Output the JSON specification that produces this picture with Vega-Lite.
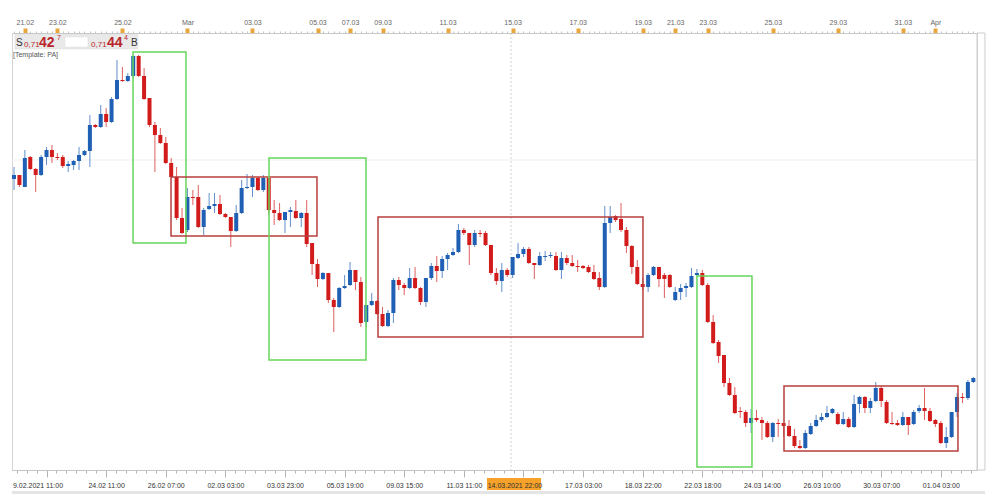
{
"$schema": "https://vega.github.io/schema/vega-lite/v6.json",
"width": 965, "height": 437,
"autosize": {"type": "none"},
"padding": {"left": 12, "top": 33, "right": 23, "bottom": 29},
"background": "white",
"config": {"view": {"stroke": "#d4d4d4"}, "font": "Liberation Sans", "scale": {"continuousPadding": 0}},
"datasets": {
"candles": [
{"i":0,"o":7333,"h":7345,"l":7322,"c":7337},
{"i":1,"o":7337,"h":7337,"l":7325,"c":7327},
{"i":2,"o":7325,"h":7362,"l":7325,"c":7354},
{"i":3,"o":7355,"h":7356,"l":7342,"c":7343},
{"i":4,"o":7343,"h":7344,"l":7320,"c":7337},
{"i":5,"o":7337,"h":7357,"l":7336,"c":7355},
{"i":6,"o":7355,"h":7365,"l":7347,"c":7362},
{"i":7,"o":7362,"h":7367,"l":7349,"c":7355},
{"i":8,"o":7355,"h":7359,"l":7352,"c":7354},
{"i":9,"o":7355,"h":7357,"l":7344,"c":7346},
{"i":10,"o":7346,"h":7351,"l":7340,"c":7348},
{"i":11,"o":7347,"h":7352,"l":7342,"c":7351},
{"i":12,"o":7351,"h":7365,"l":7342,"c":7357},
{"i":13,"o":7357,"h":7362,"l":7356,"c":7361},
{"i":14,"o":7361,"h":7397,"l":7345,"c":7387},
{"i":15,"o":7387,"h":7388,"l":7384,"c":7385},
{"i":16,"o":7385,"h":7407,"l":7384,"c":7398},
{"i":17,"o":7398,"h":7404,"l":7385,"c":7390},
{"i":18,"o":7390,"h":7415,"l":7389,"c":7413},
{"i":19,"o":7413,"h":7452,"l":7412,"c":7432},
{"i":20,"o":7432,"h":7445,"l":7430,"c":7431},
{"i":21,"o":7431,"h":7439,"l":7430,"c":7436},
{"i":22,"o":7436,"h":7456,"l":7434,"c":7456},
{"i":23,"o":7456,"h":7457,"l":7435,"c":7436},
{"i":24,"o":7436,"h":7444,"l":7412,"c":7413},
{"i":25,"o":7414,"h":7414,"l":7385,"c":7387},
{"i":26,"o":7387,"h":7390,"l":7340,"c":7377},
{"i":27,"o":7377,"h":7384,"l":7368,"c":7369},
{"i":28,"o":7369,"h":7375,"l":7348,"c":7349},
{"i":29,"o":7349,"h":7354,"l":7334,"c":7335},
{"i":30,"o":7335,"h":7345,"l":7292,"c":7294},
{"i":31,"o":7294,"h":7304,"l":7278,"c":7279},
{"i":32,"o":7282,"h":7324,"l":7280,"c":7315},
{"i":33,"o":7315,"h":7322,"l":7307,"c":7314},
{"i":34,"o":7315,"h":7327,"l":7284,"c":7285},
{"i":35,"o":7285,"h":7304,"l":7277,"c":7302},
{"i":36,"o":7303,"h":7319,"l":7302,"c":7306},
{"i":37,"o":7306,"h":7319,"l":7299,"c":7308},
{"i":38,"o":7308,"h":7317,"l":7297,"c":7298},
{"i":39,"o":7298,"h":7299,"l":7294,"c":7295},
{"i":40,"o":7295,"h":7295,"l":7265,"c":7281},
{"i":41,"o":7281,"h":7307,"l":7280,"c":7299},
{"i":42,"o":7299,"h":7332,"l":7298,"c":7324},
{"i":43,"o":7324,"h":7338,"l":7323,"c":7325},
{"i":44,"o":7325,"h":7337,"l":7315,"c":7334},
{"i":45,"o":7334,"h":7335,"l":7321,"c":7322},
{"i":46,"o":7322,"h":7337,"l":7320,"c":7334},
{"i":47,"o":7334,"h":7334,"l":7297,"c":7302},
{"i":48,"o":7302,"h":7312,"l":7287,"c":7299},
{"i":49,"o":7299,"h":7309,"l":7291,"c":7292},
{"i":50,"o":7292,"h":7300,"l":7279,"c":7300},
{"i":51,"o":7300,"h":7305,"l":7285,"c":7302},
{"i":52,"o":7301,"h":7312,"l":7293,"c":7294},
{"i":53,"o":7294,"h":7300,"l":7285,"c":7299},
{"i":54,"o":7299,"h":7312,"l":7265,"c":7268},
{"i":55,"o":7269,"h":7269,"l":7237,"c":7248},
{"i":56,"o":7248,"h":7253,"l":7225,"c":7233},
{"i":57,"o":7233,"h":7240,"l":7232,"c":7239},
{"i":58,"o":7239,"h":7239,"l":7209,"c":7212},
{"i":59,"o":7212,"h":7214,"l":7180,"c":7205},
{"i":60,"o":7205,"h":7225,"l":7204,"c":7224},
{"i":61,"o":7224,"h":7237,"l":7223,"c":7226},
{"i":62,"o":7227,"h":7250,"l":7226,"c":7242},
{"i":63,"o":7242,"h":7242,"l":7222,"c":7230},
{"i":64,"o":7230,"h":7235,"l":7185,"c":7189},
{"i":65,"o":7190,"h":7207,"l":7185,"c":7207},
{"i":66,"o":7207,"h":7219,"l":7206,"c":7211},
{"i":67,"o":7211,"h":7212,"l":7197,"c":7198},
{"i":68,"o":7198,"h":7205,"l":7185,"c":7186},
{"i":69,"o":7186,"h":7202,"l":7185,"c":7199},
{"i":70,"o":7199,"h":7234,"l":7189,"c":7232},
{"i":71,"o":7232,"h":7235,"l":7222,"c":7227},
{"i":72,"o":7227,"h":7229,"l":7217,"c":7224},
{"i":73,"o":7224,"h":7244,"l":7223,"c":7234},
{"i":74,"o":7234,"h":7245,"l":7223,"c":7224},
{"i":75,"o":7224,"h":7225,"l":7207,"c":7210},
{"i":76,"o":7210,"h":7234,"l":7205,"c":7234},
{"i":77,"o":7234,"h":7249,"l":7232,"c":7246},
{"i":78,"o":7246,"h":7256,"l":7230,"c":7241},
{"i":79,"o":7241,"h":7256,"l":7234,"c":7253},
{"i":80,"o":7253,"h":7259,"l":7242,"c":7257},
{"i":81,"o":7257,"h":7264,"l":7256,"c":7260},
{"i":82,"o":7260,"h":7288,"l":7259,"c":7282},
{"i":83,"o":7282,"h":7284,"l":7277,"c":7279},
{"i":84,"o":7279,"h":7279,"l":7247,"c":7267},
{"i":85,"o":7267,"h":7282,"l":7265,"c":7279},
{"i":86,"o":7279,"h":7282,"l":7275,"c":7278},
{"i":87,"o":7279,"h":7281,"l":7266,"c":7267},
{"i":88,"o":7267,"h":7267,"l":7237,"c":7239},
{"i":89,"o":7239,"h":7244,"l":7227,"c":7231},
{"i":90,"o":7231,"h":7249,"l":7220,"c":7242},
{"i":91,"o":7242,"h":7244,"l":7235,"c":7237},
{"i":92,"o":7237,"h":7255,"l":7234,"c":7255},
{"i":93,"o":7254,"h":7269,"l":7253,"c":7258},
{"i":94,"o":7258,"h":7265,"l":7255,"c":7263},
{"i":95,"o":7263,"h":7265,"l":7248,"c":7249},
{"i":96,"o":7249,"h":7249,"l":7233,"c":7247},
{"i":97,"o":7247,"h":7260,"l":7246,"c":7256},
{"i":98,"o":7255,"h":7261,"l":7251,"c":7256},
{"i":99,"o":7256,"h":7260,"l":7254,"c":7257},
{"i":100,"o":7256,"h":7260,"l":7241,"c":7242},
{"i":101,"o":7242,"h":7260,"l":7233,"c":7254},
{"i":102,"o":7254,"h":7257,"l":7247,"c":7249},
{"i":103,"o":7249,"h":7257,"l":7245,"c":7246},
{"i":104,"o":7246,"h":7252,"l":7240,"c":7245},
{"i":105,"o":7246,"h":7247,"l":7243,"c":7244},
{"i":106,"o":7245,"h":7247,"l":7239,"c":7240},
{"i":107,"o":7240,"h":7247,"l":7232,"c":7233},
{"i":108,"o":7234,"h":7240,"l":7222,"c":7225},
{"i":109,"o":7225,"h":7306,"l":7224,"c":7289},
{"i":110,"o":7289,"h":7306,"l":7279,"c":7295},
{"i":111,"o":7296,"h":7297,"l":7290,"c":7292},
{"i":112,"o":7293,"h":7309,"l":7280,"c":7282},
{"i":113,"o":7282,"h":7285,"l":7259,"c":7266},
{"i":114,"o":7266,"h":7267,"l":7238,"c":7245},
{"i":115,"o":7245,"h":7252,"l":7227,"c":7228},
{"i":116,"o":7228,"h":7234,"l":7222,"c":7225},
{"i":117,"o":7225,"h":7239,"l":7220,"c":7237},
{"i":118,"o":7237,"h":7246,"l":7236,"c":7245},
{"i":119,"o":7245,"h":7245,"l":7225,"c":7233},
{"i":120,"o":7237,"h":7239,"l":7214,"c":7233},
{"i":121,"o":7237,"h":7238,"l":7224,"c":7225},
{"i":122,"o":7212,"h":7225,"l":7211,"c":7220},
{"i":123,"o":7220,"h":7228,"l":7212,"c":7224},
{"i":124,"o":7224,"h":7229,"l":7215,"c":7226},
{"i":125,"o":7225,"h":7244,"l":7224,"c":7236},
{"i":126,"o":7237,"h":7243,"l":7236,"c":7239},
{"i":127,"o":7239,"h":7242,"l":7226,"c":7227},
{"i":128,"o":7227,"h":7229,"l":7189,"c":7190},
{"i":129,"o":7190,"h":7197,"l":7168,"c":7169},
{"i":130,"o":7170,"h":7172,"l":7149,"c":7156},
{"i":131,"o":7157,"h":7157,"l":7125,"c":7129},
{"i":132,"o":7129,"h":7134,"l":7116,"c":7117},
{"i":133,"o":7117,"h":7125,"l":7098,"c":7099},
{"i":134,"o":7101,"h":7105,"l":7094,"c":7100},
{"i":135,"o":7100,"h":7102,"l":7085,"c":7089},
{"i":136,"o":7089,"h":7103,"l":7079,"c":7094},
{"i":137,"o":7094,"h":7102,"l":7090,"c":7092},
{"i":138,"o":7092,"h":7095,"l":7072,"c":7089},
{"i":139,"o":7089,"h":7091,"l":7074,"c":7075},
{"i":140,"o":7075,"h":7090,"l":7070,"c":7089},
{"i":141,"o":7089,"h":7093,"l":7075,"c":7088},
{"i":142,"o":7089,"h":7089,"l":7075,"c":7086},
{"i":143,"o":7086,"h":7092,"l":7075,"c":7076},
{"i":144,"o":7076,"h":7083,"l":7064,"c":7066},
{"i":145,"o":7066,"h":7072,"l":7063,"c":7064},
{"i":146,"o":7064,"h":7082,"l":7063,"c":7079},
{"i":147,"o":7078,"h":7089,"l":7077,"c":7086},
{"i":148,"o":7086,"h":7097,"l":7085,"c":7092},
{"i":149,"o":7092,"h":7099,"l":7090,"c":7095},
{"i":150,"o":7095,"h":7106,"l":7094,"c":7099},
{"i":151,"o":7099,"h":7104,"l":7098,"c":7103},
{"i":152,"o":7098,"h":7100,"l":7087,"c":7088},
{"i":153,"o":7088,"h":7100,"l":7087,"c":7093},
{"i":154,"o":7093,"h":7095,"l":7084,"c":7085},
{"i":155,"o":7085,"h":7117,"l":7084,"c":7108},
{"i":156,"o":7108,"h":7116,"l":7099,"c":7115},
{"i":157,"o":7115,"h":7116,"l":7099,"c":7104},
{"i":158,"o":7104,"h":7114,"l":7099,"c":7111},
{"i":159,"o":7111,"h":7130,"l":7110,"c":7124},
{"i":160,"o":7124,"h":7126,"l":7105,"c":7111},
{"i":161,"o":7110,"h":7112,"l":7088,"c":7089},
{"i":162,"o":7089,"h":7100,"l":7087,"c":7088},
{"i":163,"o":7089,"h":7092,"l":7086,"c":7087},
{"i":164,"o":7087,"h":7100,"l":7086,"c":7095},
{"i":165,"o":7095,"h":7095,"l":7077,"c":7087},
{"i":166,"o":7088,"h":7102,"l":7087,"c":7100},
{"i":167,"o":7101,"h":7107,"l":7099,"c":7104},
{"i":168,"o":7104,"h":7124,"l":7092,"c":7101},
{"i":169,"o":7101,"h":7104,"l":7090,"c":7091},
{"i":170,"o":7092,"h":7093,"l":7085,"c":7088},
{"i":171,"o":7089,"h":7091,"l":7068,"c":7069},
{"i":172,"o":7069,"h":7085,"l":7064,"c":7075},
{"i":173,"o":7075,"h":7100,"l":7074,"c":7100},
{"i":174,"o":7100,"h":7119,"l":7095,"c":7115},
{"i":175,"o":7115,"h":7119,"l":7109,"c":7114},
{"i":176,"o":7114,"h":7132,"l":7112,"c":7130},
{"i":177,"o":7130,"h":7135,"l":7129,"c":7134}
],
"boxes": [
{"x1":21.96,"x2":31.73,"y1":7460,"y2":7269,"k":"impulse"},
{"x1":28.97,"x2":55.9,"y1":7335,"y2":7276,"k":"range"},
{"x1":47.05,"x2":64.94,"y1":7354,"y2":7152,"k":"impulse"},
{"x1":67.16,"x2":116.05,"y1":7295,"y2":7175,"k":"range"},
{"x1":126.01,"x2":136.16,"y1":7236,"y2":7045,"k":"impulse"},
{"x1":142.07,"x2":174.17,"y1":7126,"y2":7061,"k":"range"}
],
"panel": [
{"x1":0.18,"x2":22.88,"y1":7478,"y2":7463,"part":"bar"},
{"x1":9.41,"x2":13.65,"y1":7475,"y2":7465,"part":"input"}
],
"hdr": [
{"i":0.37,"p":7469,"t":"S","k":"letter"},
{"i":1.85,"p":7467,"t":"0,71","k":"small"},
{"i":4.61,"p":7469,"t":"42","k":"big"},
{"i":7.93,"p":7474,"t":"7","k":"sup"},
{"i":14.21,"p":7467,"t":"0,71","k":"small"},
{"i":17.16,"p":7469,"t":"44","k":"big"},
{"i":20.3,"p":7474,"t":"4","k":"sup"},
{"i":21.59,"p":7469,"t":"B","k":"letter"},
{"i":-0.18,"p":7457,"t":"[Template: PA]","k":"tmpl"}
]
},
"resolve": {"axis": {"x": "independent"}},
"layer": [
{
"data": {"values": [{"p": 7352}]},
"mark": {"type": "rule", "color": "#efefef", "strokeWidth": 1},
"encoding": {"y": {"field": "p", "type": "quantitative", "scale": {"domain": [7042, 7479], "zero": false, "nice": false}, "axis": null}}
},
{
"data": {"values": [{"i": 91.7}]},
"mark": {"type": "rule", "color": "#cfcfcf", "strokeDash": [2, 2], "strokeWidth": 1},
"encoding": {"x": {"field": "i", "type": "quantitative", "scale": {"domain": [-0.37, 177.68], "zero": false, "nice": false, "padding": 0}, "axis": null}}
},
{
"data": {"values": [{"x1": 87.27, "x2": 97.23, "y1": 7034, "y2": 7022, "part": "label"}, {"x1": -0.37, "x2": 179.15, "y1": 7021, "y2": 7018, "part": "scroll"}]},
"mark": {"type": "rect", "clip": false},
"encoding": {
"x": {"field": "x1", "type": "quantitative", "scale": {"domain": [-0.37, 177.68], "zero": false, "nice": false, "padding": 0}, "axis": null},
"x2": {"field": "x2"},
"y": {"field": "y1", "type": "quantitative", "scale": {"domain": [7042, 7479], "zero": false, "nice": false}, "axis": null},
"y2": {"field": "y2"},
"color": {"condition": {"test": "datum.part == 'label'", "value": "#f5a12a"}, "value": "#e4e4e4"}
}
},
{
"data": {"values": [{"x1": 177.68, "x2": 179.15, "y1": 7479, "y2": 7042}]},
"mark": {"type": "rect", "filled": false, "stroke": "#cccccc", "strokeWidth": 1, "clip": false},
"encoding": {
"x": {"field": "x1", "type": "quantitative", "scale": {"domain": [-0.37, 177.68], "zero": false, "nice": false, "padding": 0}, "axis": null},
"x2": {"field": "x2"},
"y": {"field": "y1", "type": "quantitative", "scale": {"domain": [7042, 7479], "zero": false, "nice": false}, "axis": null},
"y2": {"field": "y2"}
}
},
{
"data": {"name": "panel"},
"mark": {"type": "rect", "stroke": "#dcdcdc", "strokeWidth": 0.5},
"encoding": {
"x": {"field": "x1", "type": "quantitative", "scale": {"domain": [-0.37, 177.68], "zero": false, "nice": false, "padding": 0}, "axis": null},
"x2": {"field": "x2"},
"y": {"field": "y1", "type": "quantitative", "scale": {"domain": [7042, 7479], "zero": false, "nice": false}, "axis": null},
"y2": {"field": "y2"},
"color": {"condition": {"test": "datum.part == 'input'", "value": "#ffffff"}, "value": "#e9e9e9"}
}
},
{
"data": {"name": "candles"},
"mark": {"type": "rule", "strokeWidth": 1, "opacity": 0.7},
"encoding": {
"x": {"field": "i", "type": "quantitative", "scale": {"domain": [-0.37, 177.68], "zero": false, "nice": false, "padding": 0},
"axis": {"orient": "bottom", "title": null, "grid": false, "zindex": 1,
"values": [0.5,2.33,4.17,6,7.83,9.67,11.5,13.33,15.17,17,18.83,20.67,22.5,24.33,26.17,28,29.83,31.67,33.5,35.33,37.17,39,40.83,42.67,44.5,46.33,48.17,50,51.83,53.67,55.5,57.33,59.17,61,62.83,64.67,66.5,68.33,70.17,72,73.83,75.67,77.5,79.33,81.17,83,84.83,86.67,88.5,90.33,92.17,94,95.83,97.67,99.5,101.33,103.17,105,106.83,108.67,110.5,112.33,114.17,116,117.83,119.67,121.5,123.33,125.17,127,128.83,130.67,132.5,134.33,136.17,138,139.83,141.67,143.5,145.33,147.17,149,150.83,152.67,154.5,156.33,158.17,160,161.83,163.67,165.5,167.33,169.17,171,172.83,174.67,176.5],
"labelExpr": "['9.02.2021 11:00','24.02 11:00','26.02 07:00','02.03 03:00','03.03 23:00','05.03 19:00','09.03 15:00','11.03 11:00','14.03.2021 22:00','17.03 03:00','18.03 22:00','22.03 18:00','24.03 14:00','26.03 10:00','30.03 07:00','01.04 03:00'][indexof([6,17,28,39,50,61,72,83,94,105,116,127,138,149,160,171], datum.value)] || ''",
"domainColor": "#c4c4c4", "tickColor": "#b4b4b4",
"tickSize": {"condition": {"test": "datum.value % 11 == 6", "value": 7}, "value": 3},
"labelOffset": {"condition": {"test": "datum.value == 6 || datum.value == 94", "value": -9}, "value": 0},
"labelFont": "Liberation Sans", "labelFontSize": 7, "labelColor": "#333333", "labelPadding": 4,
"labelOverlap": false, "labelBound": false, "labelFlush": false}},
"y": {"field": "l", "type": "quantitative", "scale": {"domain": [7042, 7479], "zero": false, "nice": false},
"axis": {"orient": "right", "title": null, "grid": false, "labels": false,
"values": [7450,7411.7,7373.4,7335.1,7296.8,7258.5,7220.2,7181.9,7143.6,7105.3,7067,7473,7465.3,7457.7,7442.3,7434.7,7427,7419.4,7404,7396.4,7388.7,7381.1,7365.7,7358.1,7350.4,7342.8,7327.4,7319.8,7312.1,7304.5,7289.1,7281.5,7273.8,7266.2,7250.8,7243.2,7235.5,7227.9,7212.5,7204.9,7197.2,7189.6,7174.2,7166.6,7158.9,7151.3,7135.9,7128.3,7120.6,7113,7097.6,7090,7082.3,7074.7,7059.3,7051.7,7044],
"tickSize": {"condition": {"test": "indexof([7450,7411.7,7373.4,7335.1,7296.8,7258.5,7220.2,7181.9,7143.6,7105.3,7067], datum.value) >= 0", "value": 8}, "value": 4},
"tickColor": "#bdbdbd", "domainColor": "#c8c8c8"}},
"y2": {"field": "h"},
"color": {"condition": {"test": "datum.c >= datum.o", "value": "#1f5fb4"}, "value": "#d21b1b"}
}
},
{
"data": {"name": "candles"},
"mark": {"type": "bar", "size": 4},
"encoding": {
"x": {"field": "i", "type": "quantitative", "scale": {"domain": [-0.37, 177.68], "zero": false, "nice": false, "padding": 0},
"axis": {"orient": "top", "title": null, "grid": false, "zindex": 1,
"values": [0,1,2,3,4,5,6,7,8,9,10,11,12,13,14,15,16,17,18,19,20,21,22,23,24,25,26,27,28,29,30,31,32,33,34,35,36,37,38,39,40,41,42,43,44,45,46,47,48,49,50,51,52,53,54,55,56,57,58,59,60,61,62,63,64,65,66,67,68,69,70,71,72,73,74,75,76,77,78,79,80,81,82,83,84,85,86,87,88,89,90,91,92,93,94,95,96,97,98,99,100,101,102,103,104,105,106,107,108,109,110,111,112,113,114,115,116,117,118,119,120,121,122,123,124,125,126,127,128,129,130,131,132,133,134,135,136,137,138,139,140,141,142,143,144,145,146,147,148,149,150,151,152,153,154,155,156,157,158,159,160,161,162,163,164,165,166,167,168,169,170,171,172,173,174,175,176,177],
"labelExpr": "['21.02','23.02','25.02','Mar','03.03','05.03','07.03','09.03','11.03','15.03','17.03','19.03','21.03','23.03','25.03','29.03','31.03','Apr'][indexof([2,8,20,32,44,56,62,68,80,92,104,116,122,128,140,152,164,170], datum.value)] || ''",
"tickColor": {"condition": {"test": "indexof([2,8,20,32,44,56,62,68,80,92,104,116,122,128,140,152,164,170], datum.value) >= 0", "value": "#e8a63c"}, "value": "#c4c4c4"},
"tickWidth": {"condition": {"test": "indexof([2,8,20,32,44,56,62,68,80,92,104,116,122,128,140,152,164,170], datum.value) >= 0", "value": 4}, "value": 1},
"tickSize": {"condition": {"test": "indexof([2,8,20,32,44,56,62,68,80,92,104,116,122,128,140,152,164,170], datum.value) >= 0", "value": 5}, "value": 2},
"domainColor": "#c8c8c8",
"labelFont": "Liberation Sans", "labelFontSize": 7, "labelColor": "#666666", "labelPadding": 3,
"labelOverlap": false, "labelBound": false, "labelFlush": false}},
"y": {"field": "o", "type": "quantitative", "scale": {"domain": [7042, 7479], "zero": false, "nice": false}, "axis": null},
"y2": {"field": "c"},
"color": {"condition": {"test": "datum.c >= datum.o", "value": "#1f5fb4"}, "value": "#d21b1b"}
}
},
{
"data": {"name": "boxes"},
"mark": {"type": "rect", "filled": false, "strokeWidth": 1.5},
"encoding": {
"x": {"field": "x1", "type": "quantitative", "scale": {"domain": [-0.37, 177.68], "zero": false, "nice": false, "padding": 0}, "axis": null},
"x2": {"field": "x2"},
"y": {"field": "y1", "type": "quantitative", "scale": {"domain": [7042, 7479], "zero": false, "nice": false}, "axis": null},
"y2": {"field": "y2"},
"color": {"field": "k", "type": "nominal", "scale": {"domain": ["impulse", "range"], "range": ["#66d65c", "#b6403f"]}, "legend": null}
}
},
{
"data": {"name": "hdr"},
"transform": [{"filter": "datum.k == 'letter'"}],
"mark": {"type": "text", "align": "left", "baseline": "middle", "font": "Liberation Sans", "fontSize": 10, "color": "#333333"},
"encoding": {
"x": {"field": "i", "type": "quantitative", "scale": {"domain": [-0.37, 177.68], "zero": false, "nice": false, "padding": 0}, "axis": null},
"y": {"field": "p", "type": "quantitative", "scale": {"domain": [7042, 7479], "zero": false, "nice": false}, "axis": null},
"text": {"field": "t"}
}
},
{
"data": {"name": "hdr"},
"transform": [{"filter": "datum.k == 'small'"}],
"mark": {"type": "text", "align": "left", "baseline": "middle", "font": "Liberation Sans", "fontSize": 8, "color": "#b8262c"},
"encoding": {
"x": {"field": "i", "type": "quantitative", "scale": {"domain": [-0.37, 177.68], "zero": false, "nice": false, "padding": 0}, "axis": null},
"y": {"field": "p", "type": "quantitative", "scale": {"domain": [7042, 7479], "zero": false, "nice": false}, "axis": null},
"text": {"field": "t"}
}
},
{
"data": {"name": "hdr"},
"transform": [{"filter": "datum.k == 'big'"}],
"mark": {"type": "text", "align": "left", "baseline": "middle", "font": "Liberation Sans", "fontSize": 14, "fontWeight": "bold", "color": "#b8262c"},
"encoding": {
"x": {"field": "i", "type": "quantitative", "scale": {"domain": [-0.37, 177.68], "zero": false, "nice": false, "padding": 0}, "axis": null},
"y": {"field": "p", "type": "quantitative", "scale": {"domain": [7042, 7479], "zero": false, "nice": false}, "axis": null},
"text": {"field": "t"}
}
},
{
"data": {"name": "hdr"},
"transform": [{"filter": "datum.k == 'sup'"}],
"mark": {"type": "text", "align": "left", "baseline": "middle", "font": "Liberation Sans", "fontSize": 7, "color": "#b8262c"},
"encoding": {
"x": {"field": "i", "type": "quantitative", "scale": {"domain": [-0.37, 177.68], "zero": false, "nice": false, "padding": 0}, "axis": null},
"y": {"field": "p", "type": "quantitative", "scale": {"domain": [7042, 7479], "zero": false, "nice": false}, "axis": null},
"text": {"field": "t"}
}
},
{
"data": {"name": "hdr"},
"transform": [{"filter": "datum.k == 'tmpl'"}],
"mark": {"type": "text", "align": "left", "baseline": "middle", "font": "Liberation Sans", "fontSize": 7, "color": "#555555"},
"encoding": {
"x": {"field": "i", "type": "quantitative", "scale": {"domain": [-0.37, 177.68], "zero": false, "nice": false, "padding": 0}, "axis": null},
"y": {"field": "p", "type": "quantitative", "scale": {"domain": [7042, 7479], "zero": false, "nice": false}, "axis": null},
"text": {"field": "t"}
}
}
]
}
